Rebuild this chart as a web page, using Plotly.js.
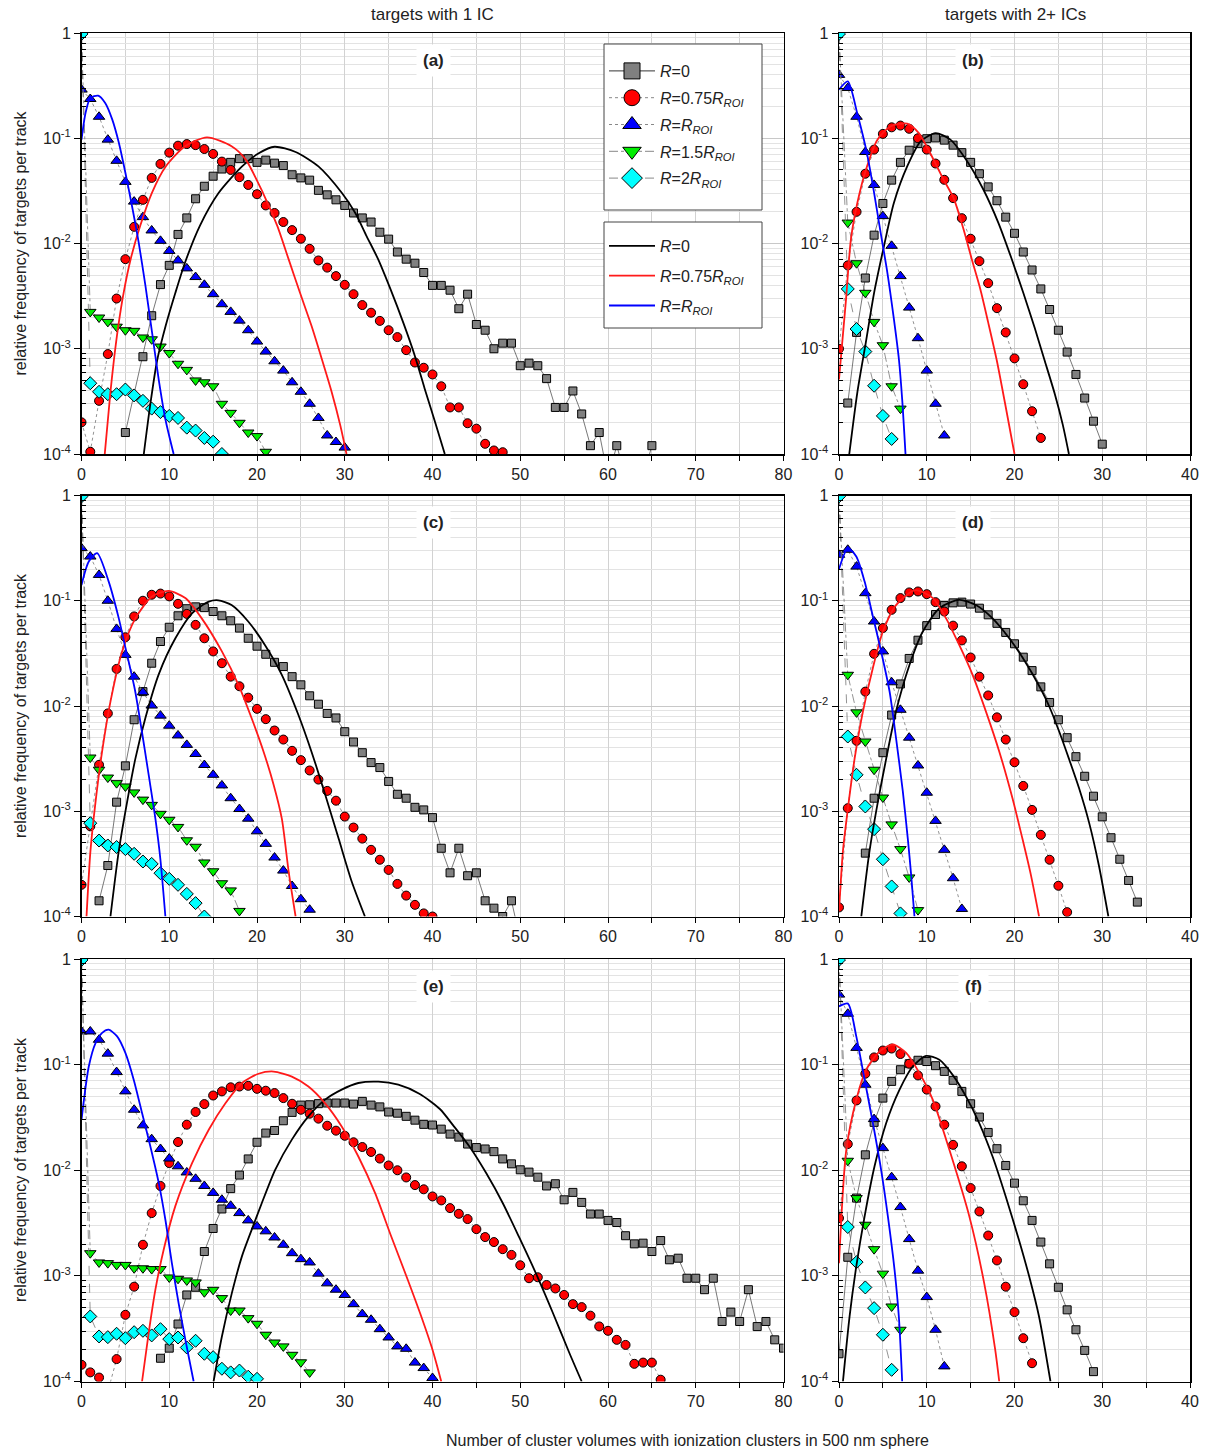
<!DOCTYPE html>
<html><head><meta charset="utf-8">
<script src="https://cdn.plot.ly/plotly-3.0.1.min.js"></script>
<style>html,body{margin:0;padding:0;background:#fff}#chart{width:1211px;height:1455px}</style>
</head><body><div id="chart"></div>
<script>
// ---------------- DATA ----------------
const seriesNames = ['<i>R</i>=0','<i>R</i>=0.75<i>R</i><sub><i>ROI</i></sub>','<i>R</i>=<i>R</i><sub><i>ROI</i></sub>','<i>R</i>=1.5<i>R</i><sub><i>ROI</i></sub>','<i>R</i>=2<i>R</i><sub><i>ROI</i></sub>'];
const fitNames = ['<i>R</i>=0','<i>R</i>=0.75<i>R</i><sub><i>ROI</i></sub>','<i>R</i>=<i>R</i><sub><i>ROI</i></sub>'];
const panelLabels = ['(a)','(b)','(c)','(d)','(e)','(f)'];
const yTickVals = [1e-4,1e-3,1e-2,1e-1,1];
const yTickText = ['10<sup>-4</sup>','10<sup>-3</sup>','10<sup>-2</sup>','10<sup>-1</sup>','1'];

// Panel (a) — first value index given by *_x0
const a_sq_x0 = 5;
const a_sq = [1.6e-4,null,8.4e-4,2.06e-3,4.07e-3,6.2e-3,1.22e-2,1.75e-2,2.66e-2,3.5e-2,4.36e-2,5.1e-2,5.9e-2,6.4e-2,6.4e-2,5.9e-2,6.2e-2,5.8e-2,5.5e-2,4.5e-2,4.2e-2,4.0e-2,3.2e-2,2.9e-2,2.6e-2,2.3e-2,1.95e-2,1.75e-2,1.6e-2,1.28e-2,1.1e-2,8.3e-3,7.1e-3,6.5e-3,5.3e-3,4.0e-3,4.0e-3,3.6e-3,2.4e-3,3.3e-3,1.7e-3,1.5e-3,1.0e-3,1.13e-3,1.13e-3,6.9e-4,7.3e-4,6.9e-4,5.2e-4,2.77e-4,2.77e-4,3.97e-4,2.4e-4,1.2e-4,1.6e-4,6e-5,1.2e-4,6e-5,6e-5,6e-5,1.2e-4];
const a_ci_x0 = 0;
const a_ci = [2.0e-4,1.05e-4,3.2e-4,8.9e-4,3.0e-3,7.1e-3,1.44e-2,2.6e-2,4.2e-2,5.7e-2,7.3e-2,8.5e-2,8.8e-2,8.6e-2,7.9e-2,7.1e-2,6.0e-2,5.0e-2,4.27e-2,3.6e-2,2.94e-2,2.3e-2,1.95e-2,1.6e-2,1.34e-2,1.11e-2,8.9e-3,6.9e-3,5.9e-3,4.9e-3,4.05e-3,3.3e-3,2.6e-3,2.2e-3,1.84e-3,1.5e-3,1.29e-3,9.7e-4,7.4e-4,6.6e-4,5.7e-4,4.4e-4,2.77e-4,2.77e-4,1.96e-4,1.74e-4,1.25e-4,1.08e-4,1.04e-4];
const a_tu_x0 = 0;
const a_tu = [0.29,0.236,0.16,0.097,0.061,0.0385,0.025,0.0178,0.0133,0.0106,8.5e-3,6.9e-3,5.8e-3,4.8e-3,4.05e-3,3.3e-3,2.65e-3,2.24e-3,1.85e-3,1.5e-3,1.17e-3,9.4e-4,7.6e-4,6.2e-4,4.8e-4,3.9e-4,3.0e-4,2.2e-4,1.5e-4,1.3e-4,1.15e-4];
const a_td_x0 = 0;
const a_td = [0.97,2.24e-3,1.98e-3,1.8e-3,1.62e-3,1.5e-3,1.48e-3,1.28e-3,1.23e-3,1.05e-3,9.1e-4,7.2e-4,6.3e-4,5.0e-4,4.8e-4,4.4e-4,3.0e-4,2.46e-4,1.98e-4,1.6e-4,1.48e-4,1.05e-4];
const a_di_x0 = 0;
const a_di = [0.98,4.7e-4,3.9e-4,3.7e-4,3.7e-4,4.1e-4,3.6e-4,3.2e-4,2.7e-4,2.5e-4,2.3e-4,2.2e-4,1.78e-4,1.67e-4,1.42e-4,1.31e-4,1.0e-4];
const a_fit0_x = [7.1,7.8,8.6,9.6,10.7,11.8,13.5,15.6,18.3,20.2,22.0,24.4,27.0,29.7,31.2,32.5,33.8,35.2,36.7,38.0,39.1,40.3,41.4];
const a_fit0_y = [1e-4,2.8e-4,7.6e-4,1.66e-3,3.4e-3,6.6e-3,1.48e-2,3.0e-2,5.4e-2,7.2e-2,8.3e-2,7.4e-2,5.4e-2,3.0e-2,1.95e-2,1.17e-2,7.1e-3,3.7e-3,1.74e-3,8.5e-4,4.2e-4,2.0e-4,1e-4];
const a_fit1_x = [2.65,3.3,3.7,4.2,4.8,5.6,6.7,8.0,9.6,11.8,14.3,17.1,18.7,20.7,22.3,23.6,24.9,26.2,27.4,28.5,29.5,30.2];
const a_fit1_y = [1e-4,3.9e-4,7.9e-4,1.66e-3,3.4e-3,7.1e-3,1.48e-2,3.0e-2,5.4e-2,8.4e-2,0.102,8.4e-2,6.3e-2,3.0e-2,1.48e-2,7.1e-3,3.4e-3,1.66e-3,7.9e-4,3.9e-4,1.86e-4,1e-4];
const a_fit2_x = [0,0.46,1.0,1.9,2.7,3.5,4.25,5.0,5.76,6.52,7.28,8.04,8.8,9.56,10.5];
const a_fit2_y = [0.097,0.174,0.241,0.254,0.216,0.151,0.091,0.047,0.0226,0.0102,4.0e-3,1.43e-3,5.1e-4,2.14e-4,1e-4];

// Panel (b)
const b_sq_x0 = 1;
const b_sq = [3.05e-4,1.43e-3,4.7e-3,1.2e-2,2.4e-2,4.0e-2,5.9e-2,7.7e-2,8.9e-2,9.9e-2,0.1007,9.6e-2,8.6e-2,7.3e-2,5.9e-2,4.6e-2,3.45e-2,2.55e-2,1.78e-2,1.25e-2,8.3e-3,5.6e-3,3.7e-3,2.36e-3,1.5e-3,9.3e-4,5.7e-4,3.4e-4,2.05e-4,1.24e-4];
const b_ci_x0 = 0;
const b_ci = [1.0e-3,6.2e-3,2.0e-2,4.6e-2,7.8e-2,0.11,0.127,0.132,0.123,0.1,7.8e-2,5.75e-2,4.03e-2,2.7e-2,1.74e-2,1.11e-2,6.8e-3,4.2e-3,2.43e-3,1.43e-3,8.1e-4,4.6e-4,2.55e-4,1.42e-4];
const b_tu_x0 = 0;
const b_tu = [0.40,0.30,0.16,7.4e-2,3.6e-2,1.82e-2,9.5e-3,4.9e-3,2.46e-3,1.26e-3,6.2e-4,3.0e-4,1.5e-4];
const b_td_x0 = 0;
const b_td = [0.97,1.58e-2,6.5e-3,3.4e-3,1.8e-3,1.08e-3,4.4e-4,2.7e-4];
const b_di_x0 = 0;
const b_di = [0.98,3.7e-3,1.54e-3,9.4e-4,4.45e-4,2.3e-4,1.39e-4];
const b_fit0_x = [1.17,2.1,3.06,4.0,5.13,6.26,7.77,9.28,11.0,12.7,14.6,16.45,18.15,19.66,21.0,22.3,23.4,24.6,25.5,26.2];
const b_fit0_y = [1e-4,3.9e-4,1.15e-3,3.4e-3,9.5e-3,2.44e-2,5.4e-2,9.3e-2,0.112,9.7e-2,6.05e-2,3.26e-2,1.58e-2,7.2e-3,3.4e-3,1.58e-3,7.9e-4,3.7e-4,1.9e-4,1e-4];
const b_fit1_x = [0,0.8,1.36,2.1,3.06,4.38,5.89,7.77,9.1,10.4,11.9,13.06,14.2,15.13,16.1,17.0,17.96,18.9,20.0];
const b_fit1_y = [5.1e-4,2.95e-3,1.1e-2,2.45e-2,5.0e-2,9.7e-2,0.13,0.138,0.112,7.2e-2,4.07e-2,2.7e-2,1.36e-2,7.1e-3,3.7e-3,1.78e-3,7.9e-4,3.1e-4,1e-4];
const b_fit2_x = [0,1.0,2.11,3.17,4.0,4.75,5.51,6.26,6.83,7.2,7.58];
const b_fit2_y = [0.29,0.347,0.168,7.3e-2,3.03e-2,1.26e-2,5.3e-3,1.9e-3,7.9e-4,3.3e-4,1e-4];

// Panel (c)
const c_sq_x0 = 2;
const c_sq = [1.41e-4,3.05e-4,1.22e-3,2.7e-3,7.4e-3,1.37e-2,2.55e-2,4.1e-2,5.6e-2,7.2e-2,8.4e-2,8.75e-2,8.6e-2,7.9e-2,7.2e-2,6.45e-2,5.5e-2,4.4e-2,3.7e-2,3.1e-2,2.6e-2,2.37e-2,1.9e-2,1.59e-2,1.25e-2,1.04e-2,8.5e-3,7.7e-3,5.7e-3,4.55e-3,3.6e-3,2.9e-3,2.6e-3,1.92e-3,1.45e-3,1.33e-3,1.09e-3,1.03e-3,8.7e-4,4.45e-4,2.6e-4,4.45e-4,2.44e-4,2.6e-4,1.41e-4,1.2e-4,1.0e-4,1.41e-4,6e-5];
const c_ci_x0 = 0;
const c_ci = [2.0e-4,7.2e-4,2.76e-3,8.5e-3,2.25e-2,4.5e-2,7.1e-2,0.1,0.114,0.117,0.11,9.35e-2,7.5e-2,5.9e-2,4.4e-2,3.3e-2,2.55e-2,1.9e-2,1.54e-2,1.2e-2,9.4e-3,7.5e-3,5.85e-3,4.8e-3,3.75e-3,3.06e-3,2.44e-3,2.0e-3,1.56e-3,1.26e-3,8.9e-4,7.0e-4,5.5e-4,4.3e-4,3.46e-4,2.77e-4,2.04e-4,1.58e-4,1.29e-4,1.07e-4,1.0e-4];
const c_tu_x0 = 0;
const c_tu = [0.316,0.263,0.176,0.1,5.4e-2,3.06e-2,1.9e-2,1.35e-2,1.01e-2,8.1e-3,6.5e-3,5.25e-3,4.27e-3,3.5e-3,2.75e-3,2.22e-3,1.76e-3,1.33e-3,1.05e-3,8.5e-4,6.45e-4,4.9e-4,3.63e-4,2.73e-4,1.95e-4,1.46e-4,1.16e-4];
const c_td_x0 = 0;
const c_td = [0.97,3.24e-3,2.48e-3,2.09e-3,1.85e-3,1.72e-3,1.51e-3,1.29e-3,1.15e-3,9.45e-4,8.3e-4,7.1e-4,5.3e-4,4.6e-4,3.26e-4,2.69e-4,2.07e-4,1.77e-4,1.13e-4];
const c_di_x0 = 0;
const c_di = [0.98,7.7e-4,5.27e-4,4.73e-4,4.57e-4,4.37e-4,3.94e-4,3.33e-4,3.16e-4,2.58e-4,2.28e-4,2.0e-4,1.64e-4,1.34e-4,1.0e-4];
const c_fit0_x = [3.3,4.25,5.2,6.14,7.28,8.8,10.7,12.6,14.5,15.6,17.1,19.0,20.9,22.8,24.7,26.2,27.76,29.3,30.8,32.3];
const c_fit0_y = [1e-4,4.2e-4,1.23e-3,3.16e-3,7.7e-3,2.0e-2,4.4e-2,7.6e-2,9.8e-2,0.101,9.1e-2,6.35e-2,3.8e-2,2.0e-2,8.3e-3,3.7e-3,1.45e-3,5.5e-4,2.14e-4,1e-4];
const c_fit1_x = [0.57,1.02,1.6,2.35,3.3,4.63,6.14,8.04,9.94,11.83,13.7,16.0,17.9,19.4,20.74,21.9,22.83,23.6,24.4];
const c_fit1_y = [1e-4,4.2e-4,1.23e-3,3.7e-3,1.1e-2,3.3e-2,6.8e-2,0.11,0.124,0.106,6.8e-2,3.3e-2,1.58e-2,7.6e-3,3.7e-3,1.78e-3,8.5e-4,2.7e-4,1e-4];
const c_fit2_x = [0,0.83,1.78,3.1,4.25,5.0,6.07,6.9,7.66,8.42,8.99,9.56];
const c_fit2_y = [0.141,0.236,0.283,0.152,6.8e-2,3.6e-2,1.45e-2,5.6e-3,2.2e-3,8.5e-4,3.5e-4,1e-4];

// Panel (d)
const d_sq_x0 = 3;
const d_sq = [4.0e-4,1.33e-3,3.6e-3,8.2e-3,1.62e-2,2.83e-2,4.22e-2,5.8e-2,7.4e-2,9.0e-2,9.55e-2,9.7e-2,9.3e-2,8.5e-2,7.35e-2,6.1e-2,5.0e-2,3.9e-2,2.91e-2,2.17e-2,1.52e-2,1.08e-2,7.4e-3,5.0e-3,3.3e-3,2.15e-3,1.39e-3,8.85e-4,5.6e-4,3.5e-4,2.2e-4,1.37e-4];
const d_ci_x0 = 0;
const d_ci = [1.22e-4,1.07e-3,4.67e-3,1.37e-2,3.13e-2,5.5e-2,8.2e-2,0.106,0.12,0.1225,0.1155,9.7e-2,7.9e-2,5.8e-2,4.2e-2,2.89e-2,1.9e-2,1.26e-2,7.8e-3,4.8e-3,2.92e-3,1.74e-3,1.03e-3,5.97e-4,3.46e-4,1.96e-4,1.1e-4];
const d_tu_x0 = 0;
const d_tu = [0.273,0.305,0.211,0.118,6.35e-2,3.3e-2,1.68e-2,9.2e-3,5.0e-3,2.72e-3,1.5e-3,8.1e-4,4.3e-4,2.31e-4,1.18e-4];
const d_td_x0 = 0;
const d_td = [0.97,1.98e-2,8.7e-3,4.6e-3,2.48e-3,1.35e-3,7.5e-4,4.37e-4,2.35e-4,1.15e-4];
const d_di_x0 = 0;
const d_di = [0.98,5.13e-3,2.22e-3,1.11e-3,6.76e-4,3.5e-4,1.93e-4,1.07e-4];
const d_fit0_x = [2.54,3.48,4.43,5.38,6.5,8.03,9.55,11.44,13.7,15.6,17.5,19.4,20.9,23.0,23.94,25.08,26.2,27.35,28.5,29.6,30.7];
const d_fit0_y = [1e-4,4.2e-4,1.23e-3,3.16e-3,8.9e-3,2.45e-2,5.1e-2,8.5e-2,0.102,9.1e-2,6.8e-2,4.4e-2,2.9e-2,1.45e-2,1.0e-2,5.75e-3,3.16e-3,1.66e-3,7.8e-4,3.1e-4,1e-4];
const d_fit1_x = [0,0.45,1.02,1.78,2.73,3.86,5.0,6.5,8.7,10.7,12.2,13.7,15.2,16.74,18.26,19.77,20.9,21.86,22.8];
const d_fit1_y = [1.12e-4,4.2e-4,1.07e-3,3.16e-3,8.9e-3,2.3e-2,5.1e-2,9.1e-2,0.126,0.106,6.8e-2,3.8e-2,2.0e-2,8.9e-3,3.7e-3,1.33e-3,5.5e-4,2.5e-4,1e-4];
const d_fit2_x = [0,1.02,1.97,2.92,3.86,4.8,5.76,6.5,7.27,7.84,8.22,8.6];
const d_fit2_y = [0.2,0.316,0.263,0.152,7.1e-2,3.3e-2,1.38e-2,4.95e-3,1.55e-3,5.5e-4,2.5e-4,1e-4];

// Panel (e)
const e_sq_x0 = 9;
const e_sq = [1.66e-4,2.07e-4,3.5e-4,6.6e-4,7.8e-4,1.7e-3,2.81e-3,4.3e-3,6.7e-3,9.0e-3,1.28e-2,1.84e-2,2.25e-2,2.38e-2,2.94e-2,3.53e-2,4.14e-2,4.17e-2,4.27e-2,4.33e-2,4.33e-2,4.33e-2,4.23e-2,4.49e-2,4.14e-2,3.98e-2,3.56e-2,3.47e-2,3.24e-2,2.98e-2,2.72e-2,2.68e-2,2.45e-2,2.2e-2,2.06e-2,1.77e-2,1.64e-2,1.59e-2,1.5e-2,1.28e-2,1.15e-2,1.01e-2,9.6e-3,8.6e-3,7.1e-3,7.45e-3,5.25e-3,6.17e-3,4.96e-3,3.85e-3,3.85e-3,3.35e-3,3.2e-3,2.4e-3,2.01e-3,2.04e-3,1.7e-3,2.16e-3,1.42e-3,1.47e-3,9.5e-4,9.5e-4,7.4e-4,9.5e-4,3.7e-4,4.54e-4,3.7e-4,7.4e-4,3.31e-4,3.7e-4,2.48e-4,2.07e-4];
const e_ci_x0 = 0;
const e_ci = [1.44e-4,1.22e-4,1.09e-4,8e-5,1.63e-4,4.28e-4,7.9e-4,1.97e-3,3.93e-3,7.1e-3,1.17e-2,1.85e-2,2.7e-2,3.56e-2,4.23e-2,5.1e-2,5.58e-2,6.1e-2,6.2e-2,6.3e-2,5.9e-2,5.66e-2,5.38e-2,4.82e-2,4.26e-2,3.74e-2,3.43e-2,3.08e-2,2.64e-2,2.37e-2,2.12e-2,1.84e-2,1.66e-2,1.49e-2,1.29e-2,1.11e-2,1.0e-2,8.55e-3,7.24e-3,6.6e-3,5.65e-3,5.18e-3,4.38e-3,3.87e-3,3.45e-3,2.77e-3,2.33e-3,2.09e-3,1.79e-3,1.58e-3,1.26e-3,9.5e-4,9.7e-4,8.2e-4,7.6e-4,6.6e-4,5.4e-4,5.06e-4,4.2e-4,3.32e-4,3.02e-4,2.48e-4,2.22e-4,1.47e-4,1.51e-4,1.51e-4,1.04e-4];
const e_tu_x0 = 0;
const e_tu = [0.206,0.206,0.172,0.127,8.5e-2,5.58e-2,3.74e-2,2.66e-2,1.97e-2,1.59e-2,1.29e-2,1.09e-2,9.54e-3,8.3e-3,7.1e-3,6.1e-3,5.26e-3,4.61e-3,3.93e-3,3.35e-3,2.94e-3,2.64e-3,2.31e-3,1.97e-3,1.64e-3,1.44e-3,1.34e-3,1.05e-3,8.5e-4,7.4e-4,6.6e-4,5.4e-4,4.35e-4,3.84e-4,3.13e-4,2.61e-4,2.15e-4,2.04e-4,1.51e-4,1.34e-4,1.08e-4];
const e_td_x0 = 0;
const e_td = [0.97,1.64e-3,1.34e-3,1.32e-3,1.27e-3,1.27e-3,1.18e-3,1.18e-3,1.16e-3,1.16e-3,9.66e-4,9.38e-4,9.05e-4,8.67e-4,7.0e-4,7.38e-4,6.16e-4,4.7e-4,4.7e-4,3.98e-4,3.52e-4,2.77e-4,2.34e-4,2.15e-4,1.79e-4,1.52e-4,1.22e-4];
const e_di_x0 = 0;
const e_di = [0.98,4.13e-4,2.67e-4,2.63e-4,2.83e-4,2.57e-4,2.93e-4,3.02e-4,2.73e-4,3.13e-4,2.52e-4,2.61e-4,2.1e-4,2.43e-4,1.83e-4,1.7e-4,1.32e-4,1.22e-4,1.27e-4,1.11e-4,1.06e-4];
const e_fit0_x = [15.05,16.0,17.14,18.28,19.4,20.55,22.07,23.97,25.86,27.76,29.65,31.55,33.83,36.1,38.5,40.84,42.4,44.25,46.15,48.0,49.9,51.8,53.7,55.6,57.0];
const e_fit0_y = [1e-4,2.67e-4,6.9e-4,1.53e-3,2.74e-3,4.9e-3,1.01e-2,1.95e-2,3.24e-2,4.66e-2,5.8e-2,6.7e-2,6.9e-2,6.45e-2,5.3e-2,3.8e-2,2.63e-2,1.66e-2,9.3e-3,4.9e-3,2.3e-3,1.05e-3,4.5e-4,1.86e-4,1e-4];
const e_fit1_x = [6.9,7.66,8.42,9.37,10.7,12.6,14.5,16.4,18.28,20.17,21.9,23.97,25.86,27.76,29.65,31.55,33.45,35.3,37.2,38.6,40.0,41.0];
const e_fit1_y = [1e-4,2.9e-4,7.4e-4,1.78e-3,4.6e-3,1.17e-2,2.42e-2,4.3e-2,6.7e-2,8.2e-2,8.6e-2,7.7e-2,6.2e-2,4.3e-2,2.6e-2,1.35e-2,6.1e-3,2.36e-3,9.1e-4,4.4e-4,2.0e-4,1e-4];
const e_fit2_x = [0,0.83,1.6,2.35,3.1,4.06,5.0,5.95,6.9,7.85,8.8,9.56,10.3,11.07,11.83,12.78];
const e_fit2_y = [0.03,9.6e-2,0.16,0.2,0.214,0.185,0.129,7.2e-2,3.48e-2,1.68e-2,7.6e-3,3.4e-3,1.32e-3,5.5e-4,2.5e-4,1e-4];

// Panel (f)
const f_sq_x0 = 0;
const f_sq = [1.83e-4,1.5e-3,5.45e-3,1.4e-2,2.84e-2,4.82e-2,6.94e-2,8.95e-2,0.102,0.11,0.107,9.77e-2,8.63e-2,7.1e-2,5.58e-2,4.26e-2,3.19e-2,2.28e-2,1.6e-2,1.11e-2,7.55e-3,5.14e-3,3.35e-3,2.09e-3,1.3e-3,7.8e-4,4.77e-4,3.09e-4,1.97e-4,1.24e-4];
const f_ci_x0 = 0;
const f_ci = [3.52e-3,1.77e-2,4.58e-2,8.2e-2,0.117,0.136,0.142,0.126,0.102,7.9e-2,5.8e-2,4.02e-2,2.7e-2,1.74e-2,1.09e-2,6.78e-3,4.07e-3,2.41e-3,1.4e-3,7.9e-4,4.54e-4,2.57e-4,1.49e-4];
const f_tu_x0 = 0;
const f_tu = [0.46,0.303,0.144,6.45e-2,3.05e-2,1.62e-2,8.6e-3,4.48e-3,2.23e-3,1.12e-3,6.3e-4,3.09e-4,1.39e-4];
const f_td_x0 = 0;
const f_td = [0.97,1.23e-2,5.45e-3,3.05e-3,1.79e-3,1.05e-3,5.13e-4,3.09e-4];
const f_di_x0 = 0;
const f_di = [0.98,2.9e-3,1.35e-3,7.77e-4,4.95e-4,2.77e-4,1.29e-4];
const f_fit0_x = [0.45,1.2,1.97,2.92,4.05,5.38,6.9,8.4,9.92,11.44,12.95,14.47,15.98,17.5,19.0,20.5,21.67,22.8,24.1];
const f_fit0_y = [1e-4,4.1e-4,1.23e-3,3.66e-3,1.09e-2,2.8e-2,5.8e-2,9.6e-2,0.121,0.111,8.0e-2,5.0e-2,2.8e-2,1.35e-2,5.65e-3,2.2e-3,9.9e-4,4.1e-4,1e-4];
const f_fit1_x = [0,0.83,1.97,3.1,4.62,6.14,7.65,9.17,10.68,12.58,14.85,16.55,17.8,18.26];
const f_fit1_y = [1.32e-3,1.56e-2,4.66e-2,8.95e-2,0.133,0.155,0.129,8.3e-2,4.66e-2,1.56e-2,3.66e-3,8.5e-4,2.0e-4,1e-4];
const f_fit2_x = [0,1.02,1.97,2.92,3.86,4.8,5.57,6.33,6.82,7.2];
const f_fit2_y = [0.356,0.378,0.185,7.2e-2,2.8e-2,1.01e-2,3.66e-3,1.14e-3,4.1e-4,1e-4];

// ---------------- STYLE / LAYOUT ----------------
const W = 1211, H = 1455;
const FONT = 'Liberation Sans, Arial, sans-serif';
function dx(a,b){return [a/W,b/W];}
function dy(top,bot){return [1-bot/H,1-top/H];}
function xs(x0,vals){return vals.map((v,i)=>x0+i);}

const markerStyles = [
  {symbol:'square', size:8, color:'#808080', dash:'solid', lc:'#555'},
  {symbol:'circle', size:9, color:'#ff0000', dash:'dot', lc:'#777'},
  {symbol:'triangle-up', size:10, color:'#0000ff', dash:'dot', lc:'#777'},
  {symbol:'triangle-down', size:10, color:'#00ee00', dash:'dashdot', lc:'#777'},
  {symbol:'diamond', size:10, color:'#00ffff', dash:'dash', lc:'#777'}
];
const fitColors = ['#000000','#ff1a1a','#0000ff'];

const panels = [
  {xd:dx(81.5,783.5), yd:dy(33,454),   xmax:80, s:[[a_sq_x0,a_sq],[a_ci_x0,a_ci],[a_tu_x0,a_tu],[a_td_x0,a_td],[a_di_x0,a_di]], f:[[a_fit0_x,a_fit0_y],[a_fit1_x,a_fit1_y],[a_fit2_x,a_fit2_y]]},
  {xd:dx(839,1190),   yd:dy(33,454),   xmax:40, s:[[b_sq_x0,b_sq],[b_ci_x0,b_ci],[b_tu_x0,b_tu],[b_td_x0,b_td],[b_di_x0,b_di]], f:[[b_fit0_x,b_fit0_y],[b_fit1_x,b_fit1_y],[b_fit2_x,b_fit2_y]]},
  {xd:dx(81.5,783.5), yd:dy(495.5,916.5), xmax:80, s:[[c_sq_x0,c_sq],[c_ci_x0,c_ci],[c_tu_x0,c_tu],[c_td_x0,c_td],[c_di_x0,c_di]], f:[[c_fit0_x,c_fit0_y],[c_fit1_x,c_fit1_y],[c_fit2_x,c_fit2_y]]},
  {xd:dx(839,1190),   yd:dy(495.5,916.5), xmax:40, s:[[d_sq_x0,d_sq],[d_ci_x0,d_ci],[d_tu_x0,d_tu],[d_td_x0,d_td],[d_di_x0,d_di]], f:[[d_fit0_x,d_fit0_y],[d_fit1_x,d_fit1_y],[d_fit2_x,d_fit2_y]]},
  {xd:dx(81.5,783.5), yd:dy(959,1381.5), xmax:80, s:[[e_sq_x0,e_sq],[e_ci_x0,e_ci],[e_tu_x0,e_tu],[e_td_x0,e_td],[e_di_x0,e_di]], f:[[e_fit0_x,e_fit0_y],[e_fit1_x,e_fit1_y],[e_fit2_x,e_fit2_y]]},
  {xd:dx(839,1190),   yd:dy(959,1381.5), xmax:40, s:[[f_sq_x0,f_sq],[f_ci_x0,f_ci],[f_tu_x0,f_tu],[f_td_x0,f_td],[f_di_x0,f_di]], f:[[f_fit0_x,f_fit0_y],[f_fit1_x,f_fit1_y],[f_fit2_x,f_fit2_y]]}
];

const minorY = [];
for (let e=-4;e<0;e++){ for(let m=2;m<=9;m++){ minorY.push(m*Math.pow(10,e)); } }

const traces = [];
const layout = {
  width:W, height:H, margin:{l:0,r:0,t:0,b:0},
  paper_bgcolor:'#fff', plot_bgcolor:'#fff',
  font:{family:FONT, size:16, color:'#222'},
  showlegend:true,
  annotations:[],
  shapes:[
    {type:'rect', xref:'paper', yref:'paper', x0:604/W, x1:762/W, y0:1-210/H, y1:1-44/H, line:{color:'#444', width:1}, fillcolor:'#fff', layer:'above'},
    {type:'rect', xref:'paper', yref:'paper', x0:604/W, x1:762/W, y0:1-328/H, y1:1-222/H, line:{color:'#444', width:1}, fillcolor:'#fff', layer:'above'}
  ]
};

panels.forEach((p,k)=>{
  const n = k+1, sfx = n===1?'':String(n);
  const xa = 'x'+sfx, ya = 'y'+sfx;
  layout['xaxis'+sfx] = {
    domain:p.xd, anchor:ya, range:[0,p.xmax], dtick:10, tick0:0,
    showline:true, mirror:true, linecolor:'#000', linewidth:1.5,
    ticks:'outside', ticklen:5, tickwidth:1, tickcolor:'#000',
    showgrid:true, gridcolor:'#d2d2d2', gridwidth:1, zeroline:false,
    minor:{dtick:5, tick0:0, showgrid:true, gridcolor:'#d2d2d2', ticks:'outside', ticklen:5, tickcolor:'#000'},
    tickfont:{size:16, color:'#222'}, fixedrange:true
  };
  layout['yaxis'+sfx] = {
    domain:p.yd, anchor:xa, type:'log', range:[-4,0],
    tickmode:'array', tickvals:yTickVals, ticktext:yTickText,
    showline:true, mirror:true, linecolor:'#000', linewidth:1.5,
    ticks:'outside', ticklen:6, tickwidth:1, tickcolor:'#000',
    showgrid:true, gridcolor:'#c8c8c8', gridwidth:1, zeroline:false,
    minor:{tickmode:'array', tickvals:minorY, showgrid:true, gridcolor:'#e3e3e3', ticks:'inside', ticklen:4, tickcolor:'#000'},
    tickfont:{size:16, color:'#222'}, fixedrange:true
  };
  p.s.forEach((sd,i)=>{
    const st = markerStyles[i];
    traces.push({
      type:'scatter', mode:'lines+markers', x:xs(sd[0],sd[1]), y:sd[1], xaxis:xa, yaxis:ya,
      connectgaps:true, showlegend:false, hoverinfo:'skip',
      line:{color:st.lc, width:0.8, dash:st.dash},
      marker:{symbol:st.symbol, size:st.size, color:st.color, line:{color:'#000', width:1}}
    });
  });
  p.f.forEach((fd,i)=>{
    traces.push({
      type:'scatter', mode:'lines', x:fd[0], y:fd[1], xaxis:xa, yaxis:ya,
      line:{color:fitColors[i], width:1.8, shape:'spline', smoothing:0.7},
      name:fitNames[i], legend:'legend2', legendgroup:'fit'+i, showlegend:(k===0), hoverinfo:'skip'
    });
  });
  layout.annotations.push({
    xref:'paper', yref:'paper', x:(k%2===0)?433/W:973/W, y:p.yd[1]-27/H, text:'<b>'+panelLabels[k]+'</b>',
    showarrow:false, font:{size:17, color:'#222'}, bgcolor:'#fff', borderpad:6, xanchor:'center', yanchor:'middle'
  });
});

// legend entries for the data series (legend-only traces, no data)
markerStyles.forEach((st,i)=>{
  traces.push({
    type:'scatter', mode:'lines+markers', x:[null], y:[null], xaxis:'x', yaxis:'y',
    name:seriesNames[i], legend:'legend', legendgroup:'ser'+i, showlegend:true,
    line:{color:i===0?'#333':'#888', width:1, dash:st.dash},
    marker:{symbol:st.symbol, size:17, color:st.color, line:{color:'#000', width:1}}
  });
});

layout.legend = {x:604/W, y:1-54/H, xanchor:'left', yanchor:'top', bgcolor:'rgba(0,0,0,0)', borderwidth:0,
  font:{size:16, family:FONT, color:'#222'}, itemwidth:46, tracegroupgap:3, itemclick:false};
layout.legend2 = {x:604/W, y:1-229/H, xanchor:'left', yanchor:'top', bgcolor:'rgba(0,0,0,0)', borderwidth:0,
  font:{size:16, family:FONT, color:'#222'}, itemwidth:46, tracegroupgap:6, itemclick:false};

layout.annotations.push(
  {xref:'paper', yref:'paper', x:432/W, y:1-15/H, text:'targets with 1 IC', showarrow:false, font:{size:17}, xanchor:'center', yanchor:'middle'},
  {xref:'paper', yref:'paper', x:1015/W, y:1-15/H, text:'targets with 2+ ICs', showarrow:false, font:{size:17}, xanchor:'center', yanchor:'middle'},
  {xref:'paper', yref:'paper', x:687/W, y:1-1440/H, text:'Number of cluster volumes with ionization clusters in 500 nm sphere', showarrow:false, font:{size:16}, xanchor:'center', yanchor:'middle'}
);
[243.5, 706, 1170].forEach(cy=>{
  layout.annotations.push({xref:'paper', yref:'paper', x:20/W, y:1-cy/H, text:'relative frequency of targets per track', textangle:-90,
    showarrow:false, font:{size:16}, xanchor:'center', yanchor:'middle'});
});

Plotly.newPlot('chart', traces, layout, {staticPlot:true, displayModeBar:false});
</script>
</body></html>
